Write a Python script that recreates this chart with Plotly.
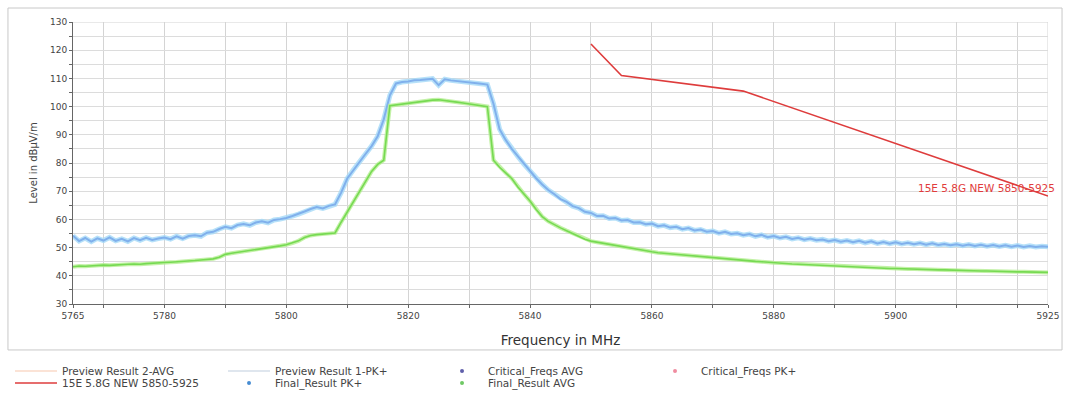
import plotly.graph_objects as go

# Sweep grid (MHz)
freq = list(range(5765, 5926))

# Preview Result 1-PK+ (dBµV/m)
pk_level = [
    54.2, 52.3, 53.4, 52.1, 53.3, 52.5, 53.6, 52.4, 53.1, 52.2,
    53.4, 52.6, 53.5, 52.7, 53.2, 53.6, 53.0, 54.0, 53.2, 54.1,
    54.4, 54.0, 55.3, 55.6, 56.6, 57.4, 56.9, 58.0, 58.4, 57.9,
    58.9, 59.3, 58.8, 59.8, 60.1, 60.5, 61.2, 61.9, 62.8, 63.7,
    64.4, 63.9, 64.8, 65.3, 69.5, 74.5, 77.5, 80.3, 83.2, 86.0,
    89.5, 95.5, 104.0, 108.2, 108.7, 108.9, 109.3, 109.4, 109.7, 109.9,
    107.6, 109.7, 109.3, 109.1, 108.7, 108.6, 108.3, 108.1, 107.8, 101.0,
    92.0, 88.2, 85.0, 82.3, 79.6, 77.0, 74.6, 72.4, 70.4, 68.9,
    67.2, 66.2, 64.7, 64.0, 62.7, 62.3, 61.2, 61.3, 60.3, 60.5,
    59.6, 59.8, 58.9, 59.0, 58.3, 58.5, 57.6, 57.9, 57.1, 57.4,
    56.5, 56.9, 56.1, 56.4, 55.6, 55.9, 55.1, 55.6, 54.8, 55.1,
    54.4, 54.8, 54.0, 54.5, 53.7, 54.1, 53.4, 53.8, 53.1, 53.5,
    52.8, 53.2, 52.6, 52.9, 52.3, 52.7, 52.1, 52.5, 51.9, 52.4,
    51.7, 52.2, 51.5, 52.0, 51.4, 51.9, 51.3, 51.7, 51.2, 51.6,
    51.0, 51.5, 50.9, 51.3, 50.8, 51.2, 50.7, 51.1, 50.6, 51.0,
    50.5, 50.9, 50.4, 50.8, 50.3, 50.7, 50.2, 50.6, 50.2, 50.5,
    50.3,
]

# Preview Result 2-AVG (dBµV/m)
avg_level = [
    43.2, 43.5, 43.4, 43.6, 43.7, 43.8, 43.7, 43.9, 44.0, 44.1,
    44.2, 44.1, 44.3, 44.5, 44.6, 44.7, 44.8, 44.9, 45.1, 45.2,
    45.4, 45.6, 45.8, 46.0, 46.6, 47.6, 48.0, 48.3, 48.6, 48.9,
    49.2, 49.5, 49.9, 50.3, 50.6, 51.0, 51.6, 52.4, 53.6, 54.3,
    54.6, 54.8, 54.9, 55.2, 59.0, 62.5, 66.5, 70.0, 73.5, 77.0,
    79.5, 81.0, 100.3, 100.6, 101.0, 101.3, 101.6, 101.9, 102.1, 102.3,
    102.4, 102.2, 101.9, 101.6, 101.3, 101.0, 100.6, 100.3, 100.0, 81.0,
    78.5, 76.5, 74.5, 71.5, 69.0, 66.5, 63.5, 61.0, 59.3, 58.0,
    57.0, 56.0, 55.0, 54.0, 53.0, 52.3, 51.9, 51.5, 51.1, 50.7,
    50.3, 50.0, 49.6, 49.2, 48.8, 48.5, 48.2, 48.0, 47.8, 47.5,
    47.3, 47.1, 46.9, 46.7, 46.5, 46.3, 46.1, 45.9, 45.7, 45.6,
    45.4, 45.3, 45.1, 45.0, 44.8, 44.6, 44.5, 44.4, 44.2, 44.1,
    44.0, 43.8, 43.7, 43.6, 43.4, 43.3, 43.2, 43.1, 43.0, 42.9,
    42.9, 42.8, 42.7, 42.7, 42.6, 42.6, 42.5, 42.4, 42.4, 42.3,
    42.3, 42.2, 42.1, 42.1, 42.0, 42.0, 41.9, 41.8, 41.8, 41.7,
    41.7, 41.6, 41.6, 41.5, 41.5, 41.4, 41.4, 41.3, 41.3, 41.2,
    41.2,
]

# Limit line "15E 5.8G NEW 5850-5925"
limit_freq = [5850, 5855, 5875, 5925]
limit_level = [122.2, 111.0, 105.5, 68.3]
limit_name = "15E 5.8G NEW 5850-5925"

x_tick_vals = [5765, 5770, 5780, 5790, 5800, 5810, 5820, 5830, 5840, 5850,
               5860, 5870, 5880, 5890, 5900, 5910, 5920, 5925]
x_tick_text = ["5765", "", "5780", "", "5800", "", "5820", "", "5840", "",
               "5860", "", "5880", "", "5900", "", "", "5925"]
y_tick_vals = list(range(30, 131, 5))
y_tick_text = [str(v) if v % 10 == 0 else "" for v in y_tick_vals]

FONT = "DejaVu Sans, Arial, sans-serif"

fig = go.Figure()

# data traces (legend entries handled separately)
fig.add_trace(go.Scatter(x=freq, y=pk_level, mode="lines", showlegend=False,
                         line=dict(color="rgba(165,218,248,0.8)", width=5)))
fig.add_trace(go.Scatter(x=freq, y=pk_level, mode="lines", showlegend=False,
                         line=dict(color="rgb(128,176,236)", width=2)))
fig.add_trace(go.Scatter(x=freq, y=avg_level, mode="lines", showlegend=False,
                         line=dict(color="rgba(180,238,145,0.8)", width=4)))
fig.add_trace(go.Scatter(x=freq, y=avg_level, mode="lines", showlegend=False,
                         line=dict(color="rgb(118,218,82)", width=1.6)))

# legend row 1
fig.add_trace(go.Scatter(x=[None], y=[None], mode="lines", name="Preview Result 2-AVG",
                         line=dict(color="rgb(250,218,200)", width=1.5), legend="legend"))
fig.add_trace(go.Scatter(x=[None], y=[None], mode="lines", name="Preview Result 1-PK+",
                         line=dict(color="rgb(212,222,232)", width=1.5), legend="legend"))
fig.add_trace(go.Scatter(x=[None], y=[None], mode="markers", name="Critical_Freqs AVG",
                         marker=dict(color="rgb(95,95,170)", size=4), legend="legend"))
fig.add_trace(go.Scatter(x=[None], y=[None], mode="markers", name="Critical_Freqs PK+",
                         marker=dict(color="rgb(240,140,160)", size=4), legend="legend"))
# legend row 2 (limit line is real data)
fig.add_trace(go.Scatter(x=limit_freq, y=limit_level, mode="lines", name=limit_name,
                         line=dict(color="rgb(222,60,60)", width=1.6), legend="legend2"))
fig.add_trace(go.Scatter(x=[None], y=[None], mode="markers", name="Final_Result PK+",
                         marker=dict(color="rgb(70,140,210)", size=4), legend="legend2"))
fig.add_trace(go.Scatter(x=[None], y=[None], mode="markers", name="Final_Result AVG",
                         marker=dict(color="rgb(110,200,100)", size=4), legend="legend2"))

fig.add_annotation(x=limit_freq[-1], y=71.3, xref="x", yref="y", text=limit_name,
                   showarrow=False, xanchor="right", yanchor="middle", xshift=9,
                   font=dict(family=FONT, size=10.5, color="rgb(225,60,60)"))

# outer frame
fig.add_shape(type="rect", xref="paper", yref="paper",
              x0=-0.0667, x1=1.0144, y0=-0.163, y1=1.0496,
              line=dict(color="#c8c8c8", width=1), layer="below")
# right border and top border of plotting area
fig.add_shape(type="line", xref="x", yref="paper", x0=5925, x1=5925, y0=0, y1=1,
              line=dict(color="#d4d4d4", width=1), layer="below")
fig.add_shape(type="line", xref="paper", yref="y", x0=0, x1=1, y0=130, y1=130,
              line=dict(color="#d4d4d4", width=1), layer="below")

legend_common = dict(orientation="h", x=-0.0646, xanchor="left", yanchor="middle",
                     entrywidth=156, entrywidthmode="pixels", itemwidth=42,
                     font=dict(family=FONT, size=10.5, color="#444"),
                     bgcolor="rgba(0,0,0,0)", traceorder="normal")

fig.update_layout(
    width=1068, height=396,
    margin=dict(l=73, r=20, t=22, b=92, autoexpand=False),
    paper_bgcolor="white", plot_bgcolor="white",
    font=dict(family=FONT, size=9, color="#444"),
    xaxis=dict(range=[5765, 5925], tickmode="array", tickvals=x_tick_vals,
               ticktext=x_tick_text, showgrid=True, gridcolor="#d4d4d4", gridwidth=1,
               showline=True, linecolor="#666", linewidth=1, mirror=False,
               ticks="outside", ticklen=3, tickcolor="#666", zeroline=False,
               title=dict(text="Frequency in MHz", standoff=15,
                          font=dict(family=FONT, size=13.5, color="#333")),
               tickfont=dict(family=FONT, size=9, color="#444")),
    yaxis=dict(range=[30, 130], tickmode="array", tickvals=y_tick_vals,
               ticktext=y_tick_text, showgrid=True, gridcolor="#dcdcdc", gridwidth=1,
               showline=True, linecolor="#666", linewidth=1,
               ticks="outside", ticklen=3, tickcolor="#666", zeroline=False,
               title=dict(text="Level in dBµV/m", standoff=10,
                          font=dict(family=FONT, size=10, color="#444")),
               tickfont=dict(family=FONT, size=9, color="#444")),
    legend=dict(y=-0.2376, **legend_common),
    legend2=dict(y=-0.2801, **legend_common),
    showlegend=True,
)

fig.write_html("out.html")
